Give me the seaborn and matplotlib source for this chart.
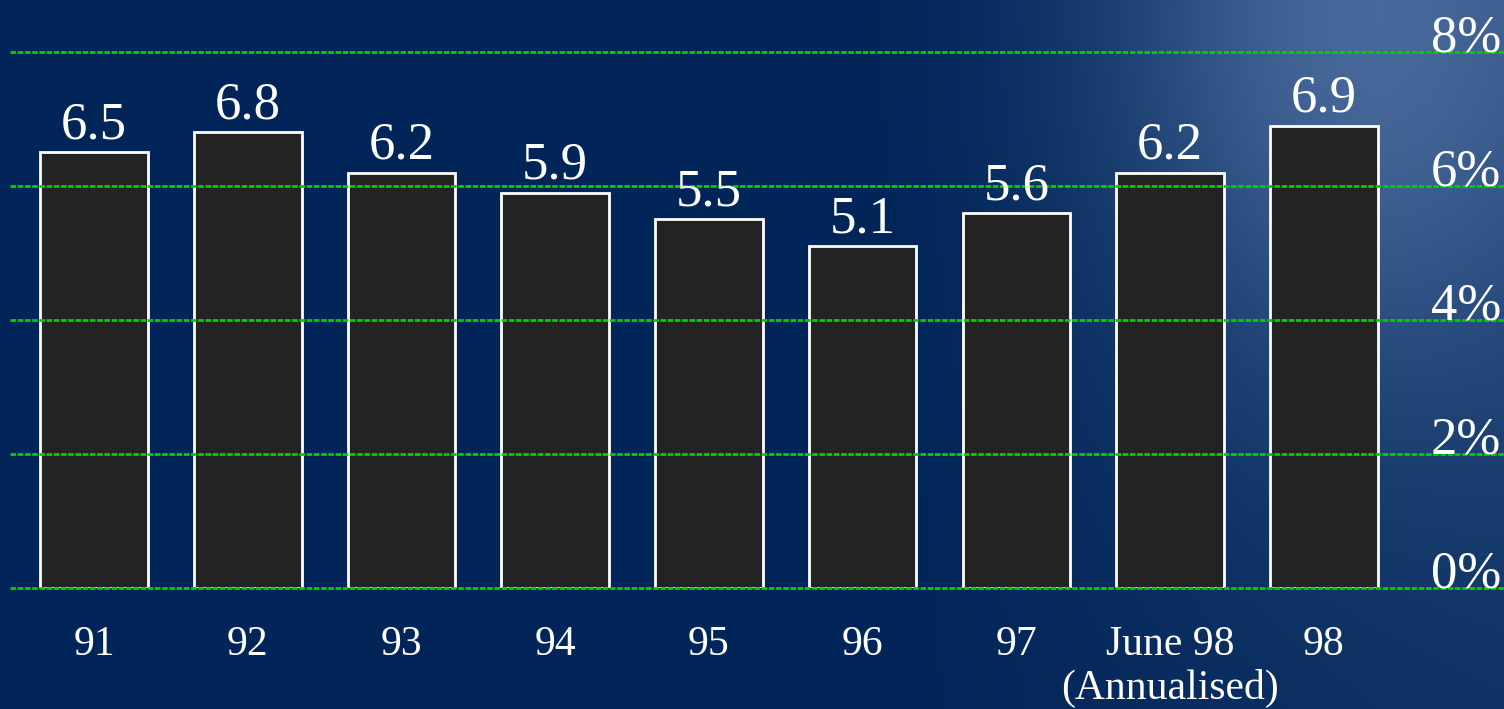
import numpy as np
import pandas as pd
import seaborn as sns
import matplotlib
matplotlib.use("Agg")
import matplotlib.pyplot as plt
import matplotlib.transforms as mtransforms
from matplotlib.colors import to_rgb

# data
years = ["91", "92", "93", "94", "95", "96", "97", "June 98\n(Annualised)", "98"]
growth = [6.5, 6.8, 6.2, 5.9, 5.5, 5.1, 5.6, 6.2, 6.9]
grid_ticks = [0, 2, 4, 6, 8]

df = pd.DataFrame({"year": years, "growth": growth})

sns.set_style("dark")
plt.rcParams["font.family"] = ["Liberation Serif", "DejaVu Serif"]

navy = "#012558"
fig = plt.figure(figsize=(15.04, 7.09), dpi=100)
fig.patch.set_facecolor(navy)

# background wash (lighter blue towards the right, like the slide picture)
bg = fig.add_axes([0, 0, 1, 1], zorder=-1)
gx, gy = np.meshgrid(np.linspace(0, 1, 300), np.linspace(1, 0, 150))
w = 0.7 * np.exp(-((gx - 0.9) / 0.16) ** 2 - ((gy - 0.95) / 0.5) ** 2)
w += 0.4 * np.clip((gx - 0.6) / 0.4, 0, 1) * (0.5 + 0.5 * gy)
w = np.clip(w, 0, 1)
c0 = np.array(to_rgb(navy))
c1 = np.array(to_rgb("#47699a"))
img = c0[None, None, :] * (1 - w[..., None]) + c1[None, None, :] * w[..., None]
bg.imshow(img, aspect="auto", interpolation="bicubic")
bg.axis("off")

ax = fig.add_axes([10 / 1504, 121 / 709, 1494 / 1504, 588 / 709])
ax.set_facecolor("none")

sns.barplot(data=df, x="year", y="growth", color="#232323", saturation=1,
            edgecolor="white", linewidth=2, width=0.7, ax=ax)

ax.set_xlim(-0.547, 9.173)
ax.set_ylim(0, 8.776)
ax.set_yticks(grid_ticks)
ax.set_yticklabels([])
ax.grid(axis="y", color="#00d000", linestyle=(0, (2, 0.6)), linewidth=2)
ax.grid(axis="x", visible=False)
for gl in ax.get_ygridlines():
    gl.set_clip_on(False)
ax.set_axisbelow(False)
for s in ax.spines.values():
    s.set_visible(False)
ax.tick_params(axis="both", length=0)
ax.tick_params(axis="x", pad=27, labelsize=30, labelcolor="white")
for lbl in ax.get_xticklabels():
    lbl.set_linespacing(1.15)
ax.set_xlabel("")
ax.set_ylabel("")

# value labels on the bars
for i, v in enumerate(growth):
    ax.annotate(f"{v:.1f}", (i, v), xytext=(0, 2), textcoords="offset points",
                ha="center", va="bottom", color="white", fontsize=38)

# percentage labels at the right end of the grid lines
trans = mtransforms.blended_transform_factory(ax.transAxes, ax.transData)
for t in grid_ticks:
    ax.text(0.998, t, f"{t}%", transform=trans, ha="right", va="baseline",
            color="white", fontsize=38, clip_on=False)

fig.savefig("out.png", dpi=100, facecolor=fig.get_facecolor())
